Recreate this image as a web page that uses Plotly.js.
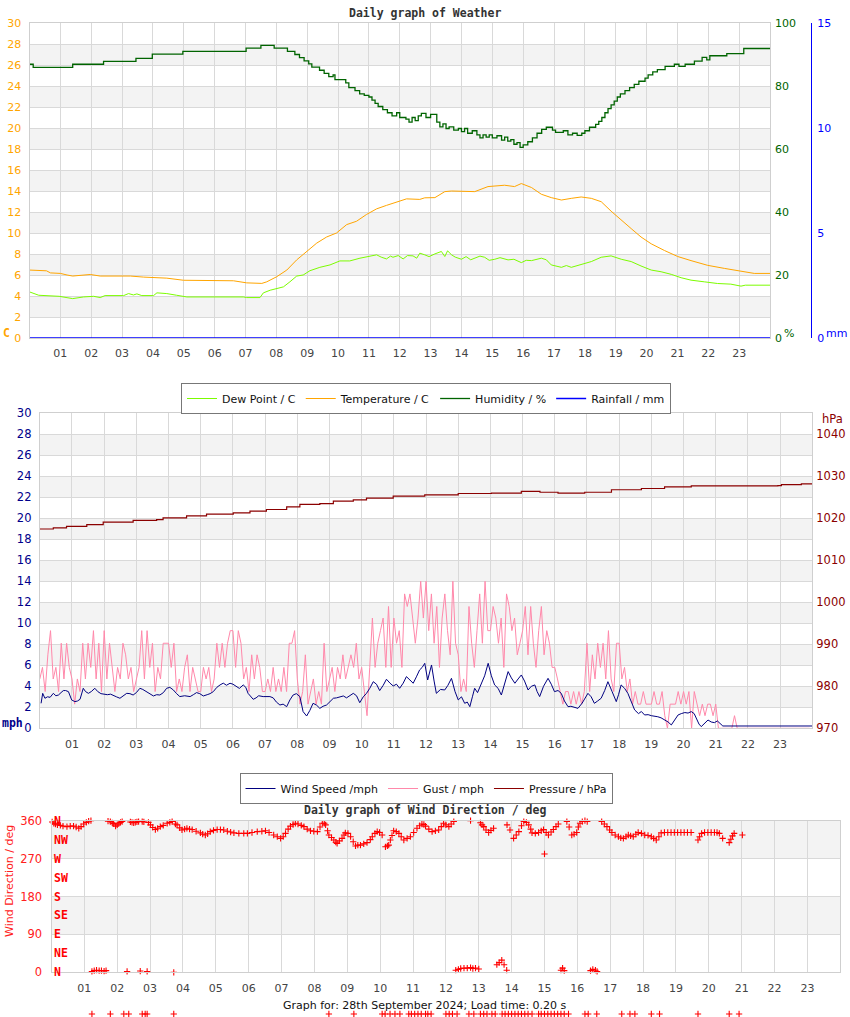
<!DOCTYPE html>
<html><head><meta charset="utf-8">
<script src="https://cdn.plot.ly/plotly-3.0.1.min.js"></script>
<style>html,body{margin:0;padding:0;background:#fff;}#chart{width:850px;height:1017px;}</style>
</head><body><div id="chart"></div>
<script>
// ---------------- DATA ----------------
const hourTicks = [1,2,3,4,5,6,7,8,9,10,11,12,13,14,15,16,17,18,19,20,21,22,23];
const hourLabels = ['01','02','03','04','05','06','07','08','09','10','11','12','13','14','15','16','17','18','19','20','21','22','23'];

// [hour, value]
const temperatureC = [[0,6.47],[0.55,6.4],[0.68,6.2],[1.0,6.15],[1.22,6.0],[1.4,5.9],[1.97,6.05],[2.29,5.9],[3.27,5.9],[3.7,5.8],[4.45,5.7],[4.99,5.5],[6.61,5.45],[7.04,5.25],[7.53,5.2],[7.69,5.35],[8.01,5.83],[8.34,6.47],[8.66,7.44],[8.98,8.24],[9.31,9.04],[9.63,9.62],[9.95,10.0],[10.28,10.8],[10.6,11.12],[10.92,11.76],[11.25,12.3],[11.57,12.63],[11.8,12.85],[12.0,13.04],[12.22,13.25],[12.65,13.2],[12.81,13.35],[13.14,13.37],[13.46,13.94],[13.68,14.0],[14.43,13.94],[14.86,14.42],[15.4,14.55],[15.72,14.42],[15.94,14.71],[16.27,14.33],[16.59,13.69],[16.91,13.37],[17.24,13.14],[17.56,13.3],[17.88,13.43],[18.21,13.3],[18.53,12.98],[18.85,12.08],[19.18,11.28],[19.5,10.42],[19.82,9.62],[20.15,8.97],[20.58,8.33],[21.01,7.76],[21.44,7.37],[21.98,6.92],[22.52,6.63],[22.95,6.41],[23.49,6.15],[24,6.15]];

const dewPointC = [[0,4.39],[0.2,4.17],[0.3,4.07],[0.96,3.97],[1.4,3.75],[1.75,3.91],[2.08,3.97],[2.29,3.85],[2.45,4.04],[3.05,4.04],[3.21,4.23],[3.37,4.1],[3.48,4.2],[3.64,4.04],[4.02,4.04],[4.13,4.3],[4.45,4.23],[4.77,4.07],[5.1,3.91],[6.93,3.91],[7.04,3.85],[7.47,3.85],[7.58,4.3],[7.8,4.55],[8.01,4.7],[8.23,4.87],[8.44,5.35],[8.66,5.9],[8.87,6.0],[9.09,6.41],[9.41,6.73],[9.74,6.96],[10.06,7.34],[10.38,7.34],[10.71,7.6],[11.03,7.82],[11.25,7.92],[11.4,7.7],[11.57,7.53],[11.7,7.8],[11.78,7.69],[11.95,7.85],[12.11,7.53],[12.25,7.85],[12.43,7.82],[12.55,7.6],[12.65,8.08],[12.81,7.92],[12.95,7.75],[13.14,8.01],[13.35,8.24],[13.46,7.76],[13.55,8.3],[13.68,7.92],[13.8,7.7],[14.0,7.5],[14.15,7.75],[14.3,7.45],[14.43,7.6],[14.6,7.8],[14.75,7.69],[14.9,7.4],[15.08,7.5],[15.25,7.65],[15.51,7.44],[15.7,7.5],[15.94,7.18],[16.1,7.4],[16.27,7.37],[16.45,7.5],[16.59,7.6],[16.75,7.45],[16.91,6.96],[17.24,6.73],[17.4,6.9],[17.56,6.73],[17.7,6.85],[17.88,6.96],[18.21,7.28],[18.53,7.69],[18.85,7.82],[19.18,7.5],[19.5,7.28],[19.82,6.86],[20.15,6.47],[20.47,6.31],[20.8,6.06],[21.12,5.74],[21.44,5.51],[21.87,5.35],[22.3,5.19],[22.73,5.13],[23.06,4.94],[23.2,5.03],[23.49,5.03],[24,5.03]];

const humidityPct = [[0,86.9],[0.12,85.9],[1.4,86.9],[2.4,87.8],[3.45,88.8],[3.98,90.1],[4.97,91.0],[7.02,92.0],[7.5,92.9],[7.93,92.0],[8.36,91.0],[8.6,90.0],[8.75,89.0],[8.9,88.0],[9.05,87.0],[9.15,86.0],[9.4,85.0],[9.55,84.0],[9.7,83.0],[9.84,83.5],[9.9,82.0],[10.25,81.0],[10.35,79.5],[10.55,78.5],[10.7,77.5],[10.85,77.0],[11.0,76.5],[11.1,75.5],[11.2,74.5],[11.3,73.5],[11.45,72.5],[11.6,71.5],[11.75,70.5],[11.9,71.5],[12.0,70.0],[12.2,69.5],[12.3,68.5],[12.4,70.0],[12.5,69.0],[12.6,70.5],[12.7,71.3],[12.85,70.0],[13.0,71.0],[13.2,68.5],[13.3,67.0],[13.4,68.0],[13.5,66.5],[13.6,67.0],[13.75,66.0],[13.9,66.5],[14.0,65.5],[14.1,66.5],[14.2,65.0],[14.35,65.8],[14.5,64.5],[14.6,63.5],[14.7,64.5],[14.8,63.8],[14.9,64.5],[15.0,63.5],[15.15,64.2],[15.3,62.8],[15.4,63.8],[15.5,62.5],[15.6,63.0],[15.7,61.5],[15.8,62.0],[15.9,60.5],[16.0,61.3],[16.15,62.3],[16.3,63.5],[16.45,65.0],[16.6,66.2],[16.75,66.9],[16.95,66.0],[17.05,65.3],[17.3,65.8],[17.45,64.5],[17.6,65.0],[17.75,64.3],[17.9,65.0],[18.0,65.8],[18.15,66.9],[18.35,67.8],[18.45,68.8],[18.55,70.0],[18.65,71.5],[18.75,72.8],[18.85,74.0],[18.95,75.2],[19.05,76.5],[19.15,77.5],[19.3,78.5],[19.45,79.5],[19.6,80.5],[19.75,81.5],[19.95,82.5],[20.05,83.5],[20.2,84.5],[20.35,85.2],[20.6,86.2],[20.9,86.9],[21.05,86.2],[21.25,86.9],[21.55,87.9],[21.8,89.1],[21.95,88.3],[22.05,89.6],[22.6,90.3],[23.15,91.9],[24,91.9]];

const rainfallMm = [[0,0],[24,0]];

const windSpeedMph = [[0.04,2.38],[0.09,3.33],[0.16,2.86],[0.24,3.0],[0.32,2.95],[0.42,3.33],[0.5,3.1],[0.58,3.17],[0.66,3.4],[0.73,3.59],[0.8,3.6],[0.89,3.49],[0.99,2.7],[1.09,2.54],[1.17,2.6],[1.25,2.76],[1.35,3.81],[1.42,3.5],[1.51,3.33],[1.6,3.5],[1.71,3.81],[1.8,3.5],[1.9,3.3],[1.97,3.27],[2.1,3.2],[2.2,3.25],[2.28,3.17],[2.38,3.0],[2.49,2.86],[2.6,3.1],[2.7,3.33],[2.8,3.3],[2.9,3.17],[3.0,3.4],[3.11,3.81],[3.2,3.7],[3.32,3.49],[3.42,3.3],[3.53,3.08],[3.63,3.2],[3.73,3.17],[3.84,3.4],[3.94,3.81],[4.04,3.9],[4.15,3.65],[4.25,3.3],[4.35,3.02],[4.5,3.1],[4.67,3.02],[4.77,3.2],[4.87,3.4],[4.97,3.3],[5.08,3.08],[5.2,3.2],[5.29,3.3],[5.39,3.49],[5.5,3.9],[5.6,4.13],[5.7,4.3],[5.8,4.1],[5.91,4.29],[6.0,4.2],[6.11,3.97],[6.2,3.8],[6.32,4.13],[6.4,3.9],[6.47,3.33],[6.55,3.0],[6.63,2.76],[6.72,2.9],[6.8,3.1],[6.94,3.02],[7.05,3.0],[7.15,3.02],[7.25,2.9],[7.35,2.5],[7.46,2.22],[7.56,2.3],[7.67,2.06],[7.77,2.7],[7.87,3.17],[7.97,3.3],[8.08,3.02],[8.18,1.59],[8.29,1.17],[8.39,1.7],[8.49,2.38],[8.6,2.2],[8.7,1.9],[8.8,2.1],[8.91,2.22],[9.0,2.5],[9.12,2.86],[9.22,2.9],[9.33,3.0],[9.43,3.08],[9.53,2.9],[9.64,3.1],[9.74,3.33],[9.84,3.1],[9.94,2.44],[10.05,3.0],[10.15,3.33],[10.25,3.8],[10.36,4.44],[10.46,4.2],[10.56,3.59],[10.67,4.1],[10.77,4.67],[10.88,4.3],[10.98,4.03],[11.08,4.2],[11.18,3.81],[11.29,4.3],[11.39,4.92],[11.5,4.6],[11.6,4.29],[11.7,4.9],[11.8,5.56],[11.88,5.8],[11.96,6.19],[12.05,4.6],[12.17,6.03],[12.25,4.5],[12.32,3.33],[12.45,3.7],[12.58,3.65],[12.68,4.1],[12.79,4.76],[12.9,3.5],[13.0,2.7],[13.1,3.0],[13.2,2.38],[13.28,2.5],[13.36,2.06],[13.44,3.0],[13.51,3.81],[13.6,3.4],[13.72,4.29],[13.82,5.0],[13.93,6.19],[14.03,5.0],[14.13,4.13],[14.24,3.8],[14.34,3.17],[14.45,4.3],[14.55,5.4],[14.65,4.8],[14.76,4.29],[14.86,4.7],[14.96,5.08],[15.06,4.5],[15.17,3.65],[15.27,4.0],[15.38,4.13],[15.45,3.5],[15.53,3.02],[15.65,4.0],[15.79,4.76],[15.89,4.2],[15.99,3.49],[16.1,3.6],[16.2,3.33],[16.3,2.6],[16.41,2.06],[16.5,2.1],[16.62,2.0],[16.72,1.9],[16.85,2.4],[16.95,2.9],[17.03,3.33],[17.13,3.0],[17.23,2.38],[17.33,2.6],[17.44,2.86],[17.55,3.6],[17.65,4.44],[17.78,3.5],[17.91,2.54],[17.98,3.2],[18.06,4.13],[18.17,3.8],[18.27,3.33],[18.38,2.5],[18.48,1.75],[18.6,1.4],[18.69,1.6],[18.79,1.27],[18.9,1.3],[19.0,1.2],[19.1,1.17],[19.2,1.1],[19.3,1.0],[19.41,0.79],[19.52,0.6],[19.62,0.32],[19.72,0.8],[19.83,1.27],[19.93,1.4],[20.04,1.5],[20.14,1.45],[20.24,1.59],[20.33,1.4],[20.4,0.95],[20.48,0.4],[20.55,0.16],[20.65,0.5],[20.76,0.79],[20.86,0.6],[20.96,0.54],[21.05,0.7],[21.12,0.5],[21.22,0.22],[24,0.22]];

// gust, one row per hour, readings every 5 minutes
const gustMphByHour = [
 [4.7,5.8,3.5,7.0,9.3,4.7,5.8,3.5,8.1,4.7,8.1,5.8],
 [4.7,2.3,4.7,3.5,8.1,4.7,8.1,5.8,9.3,4.7,8.1,3.5],
 [9.3,4.7,8.1,5.8,3.5,5.8,4.7,8.1,7.0,4.7,5.8,3.5],
 [4.7,5.8,9.3,4.7,9.3,5.8,8.1,3.5,5.8,4.7,8.1,8.1],
 [8.1,5.8,8.1,3.5,4.7,3.5,5.8,7.0,3.5,5.8,4.7,3.5],
 [3.5,5.8,4.7,5.8,3.5,4.7,8.1,5.8,8.1,5.8,8.1,9.3],
 [9.3,5.8,9.3,8.1,4.7,5.8,3.5,7.0,4.7,7.0,5.8,3.5],
 [3.5,4.7,3.5,5.8,3.5,4.7,3.5,5.8,3.5,8.1,8.1,9.3],
 [4.7,2.3,3.5,7.0,2.3,3.5,4.7,2.3,3.5,2.3,8.1,3.5],
 [4.7,5.8,3.5,5.8,4.7,7.0,4.7,5.8,7.0,5.8,8.1,4.7],
 [5.8,3.5,1.2,5.8,10.5,5.8,8.1,9.3,10.5,5.8,11.6,5.8],
 [10.5,8.1,9.3,5.8,12.8,11.6,12.8,10.5,8.1,10.5,14.0,10.5],
 [14.0,9.3,12.8,8.1,11.6,5.8,10.5,12.8,9.3,7.0,14.0,8.1],
 [7.0,3.5,4.7,3.5,11.6,8.1,5.8,9.3,12.8,8.1,14.0,9.3],
 [9.3,11.6,10.5,8.1,10.5,5.8,12.8,11.6,9.3,10.5,7.0,8.1],
 [9.3,11.6,7.0,11.6,8.1,5.8,9.3,11.6,7.0,9.3,8.1,5.8],
 [5.8,4.7,3.5,2.3,3.5,3.5,2.3,3.5,2.3,3.5,2.3,3.5],
 [8.1,3.5,7.0,4.7,8.1,5.8,8.1,4.7,9.3,4.7,3.5,8.1],
 [8.1,4.7,5.8,3.5,4.7,2.3,3.5,2.3,2.3,3.5,2.3,2.3],
 [2.3,3.5,2.3,2.3,3.5,1.2,0.0,2.3,2.3,2.3,3.5,2.3],
 [3.5,2.3,3.5,0.0,3.5,2.3,1.2,2.3,1.2,2.3,2.3,1.2],
 [2.3,0.0,0.0,0.0,0.0,0.0,0.0,1.2,0.0,0.0,0.0,0.0],
 [0,0,0,0,0,0,0,0,0,0,0,0],
 [0,0,0,0,0,0,0,0,0,0,0,0]
];

const pressureHpa = [[0,1017.45],[0.42,1017.7],[0.83,1018.1],[1.46,1018.5],[1.97,1019.1],[2.9,1019.5],[3.63,1019.7],[3.83,1020.1],[4.56,1020.6],[5.18,1021.0],[6.01,1021.3],[6.53,1021.7],[7.04,1022.1],[7.67,1022.7],[8.08,1023.3],[8.7,1023.5],[9.12,1024.1],[9.74,1024.4],[10.15,1024.8],[10.98,1025.3],[11.96,1025.6],[13.0,1025.9],[14.03,1026.0],[14.96,1026.4],[15.54,1026.2],[16.1,1026.0],[16.93,1026.2],[17.76,1026.8],[18.69,1027.1],[19.41,1027.5],[20.24,1027.7],[21.28,1027.7],[22.93,1027.8],[23.04,1028.0],[23.66,1028.2],[24,1028.2]];

const windDirDeg = [[0.02,357],[0.07,354],[0.12,352],[0.18,350],[0.27,349],[0.35,347],[0.47,346],[0.57,347],[0.67,347],[0.75,345],[0.83,342],[0.9,346],[0.98,352],[1.06,356],[1.13,359],[1.2,360],
[1.23,2],[1.3,4],[1.37,5],[1.45,4],[1.52,4],[1.6,3],[1.66,4],
[1.72,359],[1.79,358],[1.85,355],[1.89,353],[1.95,347],[2.0,350],[2.05,354],[2.1,356],[2.15,358],[2.3,2],[2.4,357],[2.45,356],[2.5,355],[2.55,356],[2.6,357],[2.65,358],[2.7,3],[2.76,358],[2.81,357],[2.91,2],[2.95,356],[3.01,350],[3.08,344],[3.16,339],[3.23,342],[3.31,346],[3.4,349],[3.52,354],[3.6,356],[3.67,358],[3.72,0],[3.77,352],[3.82,350],[3.9,343],[3.97,338],[4.05,340],[4.12,342],[4.2,340],[4.28,339],[4.4,335],[4.53,331],[4.6,328],[4.68,326],[4.75,329],[4.83,334],[4.93,337],[5.04,339],[5.14,339],[5.24,338],[5.35,335],[5.45,333],[5.55,331],[5.7,330],[5.85,330],[5.96,330],[6.1,332],[6.26,334],[6.4,335],[6.51,336],[6.62,332],[6.76,326],[6.87,322],[6.97,318],[7.05,322],[7.12,330],[7.2,340],[7.27,347],[7.35,351],[7.42,354],[7.5,352],[7.6,349],[7.68,346],[7.78,340],[7.88,336],[7.98,335],[8.09,334],[8.17,345],[8.24,354],[8.3,354],[8.34,350],[8.4,336],[8.44,326],[8.52,320],[8.59,314],[8.65,309],[8.69,306],[8.76,312],[8.84,318],[8.9,326],[8.94,331],[9.02,330],[9.1,322],[9.18,310],[9.25,300],[9.32,302],[9.4,302],[9.5,305],[9.6,308],[9.7,315],[9.76,322],[9.84,330],[9.91,334],[9.98,332],[10.06,326],[10.16,298],[10.22,300],[10.26,302],[10.31,314],[10.36,325],[10.41,336],[10.49,334],[10.57,330],[10.64,322],[10.72,314],[10.82,318],[10.92,322],[11.02,332],[11.12,342],[11.2,348],[11.27,352],[11.33,351],[11.38,347],[11.48,340],[11.58,334],[11.68,336],[11.78,338],[11.86,346],[11.93,354],[12.0,350],[12.09,346],[12.16,352],[12.24,358],
[12.3,5],[12.38,7],[12.45,9],[12.55,10],[12.65,10],[12.75,11],[12.82,9],[12.9,10],[13.0,8],
[12.75,360],[13.05,355],[13.1,350],[13.15,346],[13.22,338],[13.3,332],[13.37,337],[13.45,342],
[13.55,18],[13.62,23],[13.7,29],[13.77,18],[13.85,5],
[13.86,350],[13.95,338],[14.06,318],[14.14,326],[14.22,334],[14.3,348],[14.37,358],[14.45,356],[14.52,350],[14.58,340],[14.62,331],[14.72,330],[14.82,332],[14.9,336],[14.97,339],[15.0,281],[15.05,332],[15.12,326],[15.2,333],[15.27,339],[15.35,346],[15.42,352],[15.5,5],[15.55,10],[15.6,4],[15.68,358],[15.75,345],[15.83,326],[15.9,328],[15.98,332],[16.03,345],[16.08,354],[16.15,358],[16.23,360],[16.3,358],[16.4,4],[16.47,7],[16.55,5],[16.6,2],[16.74,358],[16.82,352],[16.9,346],[16.98,338],[17.05,332],[17.15,326],[17.25,322],[17.32,319],[17.4,318],[17.48,322],[17.55,326],[17.62,324],[17.7,322],[17.78,328],[17.85,332],[17.95,330],[18.05,326],[18.15,325],[18.25,322],[18.32,318],[18.4,314],[18.48,322],[18.55,331],[18.65,332],[18.75,332],[18.85,332],[18.95,332],[19.05,332],[19.15,332],[19.25,332],[19.35,332],[19.46,332],[19.67,314],[19.72,322],[19.78,330],[19.87,332],[19.97,332],[20.07,332],[20.17,332],[20.25,332],[20.32,330],[20.42,318],[20.62,308],[20.67,316],[20.72,324],[20.77,330],[21.02,326]];

// stray readings drawn below the direction panel
const windDirBelowHours = [1.23,1.79,2.2,2.35,2.76,2.85,2.91,3.72,8.44,9.2,10.06,10.15,10.3,10.45,10.6,10.87,10.95,11.05,11.15,11.25,11.38,11.45,11.55,12.0,12.1,12.2,12.34,12.7,12.85,13.05,13.15,13.25,13.4,13.5,13.71,13.8,13.9,14.0,14.1,14.2,14.3,14.4,14.5,14.62,14.82,14.9,15.0,15.1,15.2,15.3,15.4,15.5,15.6,15.73,16.23,16.33,16.59,17.35,17.6,17.75,18.25,18.5,19.67,20.62,20.92];
const windDirBelowDeg = -99;

const compassNames = ['N','NE','E','SE','S','SW','W','NW','N'];
const compassDeg = [0,45,90,135,180,225,270,315,360];

// ---------------- LAYOUT HELPERS ----------------
const W = 850, H = 1017;
const fx = p => p / W;
const fy = p => 1 - p / H;
const X = a => a.map(d => d[0]);
const Y = a => a.map(d => d[1]);
const range = (a, b, s) => { const r = []; for (let v = a; v <= b + 1e-9; v += s) r.push(v); return r; };

const FONT = 'DejaVu Sans';
const MONO = 'DejaVu Sans Mono';
const GRID = '#d9d9d9';
const BAND = '#f3f3f3';
const BORDER = '#cfcfcf';

const gustX = [], gustY = [];
gustMphByHour.forEach((row, h) => row.forEach((v, i) => { gustX.push(h + i / row.length); gustY.push(v); }));

const crossMarker = {symbol: 'cross-thin', size: 4.5, color: '#ff0000', line: {color: '#ff0000', width: 1.1}};

const traces = [
  {x: X(dewPointC), y: Y(dewPointC), name: 'Dew Point / C', type: 'scatter', mode: 'lines', line: {color: '#7cfc00', width: 1}, xaxis: 'x', yaxis: 'y', legend: 'legend'},
  {x: X(temperatureC), y: Y(temperatureC), name: 'Temperature / C', type: 'scatter', mode: 'lines', line: {color: '#ffa500', width: 1}, xaxis: 'x', yaxis: 'y', legend: 'legend'},
  {x: X(humidityPct), y: Y(humidityPct), name: 'Humidity / %', type: 'scatter', mode: 'lines', line: {color: '#006400', width: 1.3, shape: 'hv'}, xaxis: 'x', yaxis: 'y2', legend: 'legend'},
  {x: X(rainfallMm), y: Y(rainfallMm), name: 'Rainfall / mm', type: 'scatter', mode: 'lines', line: {color: '#0000ff', width: 1.5}, xaxis: 'x', yaxis: 'y3', legend: 'legend', cliponaxis: false},

  {x: gustX, y: gustY, name: 'Gust / mph', type: 'scatter', mode: 'lines', line: {color: '#ff88aa', width: 1}, xaxis: 'x2', yaxis: 'y4', legend: 'legend2', legendrank: 2},
  {x: X(windSpeedMph), y: Y(windSpeedMph), name: 'Wind Speed /mph', type: 'scatter', mode: 'lines', line: {color: '#000080', width: 1}, xaxis: 'x2', yaxis: 'y4', legend: 'legend2', legendrank: 1, cliponaxis: false},
  {x: X(pressureHpa), y: Y(pressureHpa), name: 'Pressure / hPa', type: 'scatter', mode: 'lines', line: {color: '#8b0000', width: 1.2, shape: 'hv'}, xaxis: 'x2', yaxis: 'y5', legend: 'legend2', legendrank: 3},

  {x: X(windDirDeg), y: Y(windDirDeg), name: 'Wind Direction / deg', type: 'scatter', mode: 'markers', marker: crossMarker, xaxis: 'x3', yaxis: 'y6', showlegend: false, cliponaxis: false},
  {x: windDirBelowHours, y: windDirBelowHours.map(() => windDirBelowDeg), type: 'scatter', mode: 'markers', marker: crossMarker, xaxis: 'x4', yaxis: 'y7', showlegend: false, cliponaxis: false, hoverinfo: 'skip'}
];

function hourAxis(domL, domR, anchor) {
  return {domain: [fx(domL), fx(domR)], anchor: anchor, range: [0, 24], tickmode: 'array', tickvals: hourTicks, ticktext: hourLabels,
    showgrid: true, gridcolor: GRID, gridwidth: 1, zeroline: false, showline: true, linecolor: BORDER, mirror: true, ticks: '',
    tickfont: {family: FONT, size: 11, color: '#444'}, ticklabelstandoff: 5, fixedrange: true};
}

const layout = {
  width: W, height: H, margin: {l: 0, r: 0, t: 0, b: 0}, paper_bgcolor: '#fff', plot_bgcolor: '#fff',
  font: {family: FONT, size: 11, color: '#222'}, showlegend: true, hovermode: false,
  xaxis: hourAxis(29.5, 770, 'y'),
  yaxis: {domain: [fy(338), fy(23)], anchor: 'x', range: [0, 30], tickmode: 'array', tickvals: range(0, 30, 2), showgrid: true, gridcolor: GRID, zeroline: false, showline: true, linecolor: BORDER, mirror: true, ticks: '', tickfont: {family: FONT, size: 11, color: '#ffa500'}, ticklabelstandoff: 5, fixedrange: true},
  yaxis2: {overlaying: 'y', side: 'right', anchor: 'x', range: [0, 100], tickmode: 'array', tickvals: range(0, 100, 20), showgrid: false, zeroline: false, showline: false, ticks: '', tickfont: {family: FONT, size: 11, color: '#006400'}, ticklabelstandoff: 4, fixedrange: true},
  yaxis3: {overlaying: 'y', side: 'right', anchor: 'free', position: fx(810.5), range: [0, 15], tickmode: 'array', tickvals: range(0, 15, 5), showgrid: false, zeroline: false, showline: true, linecolor: '#0000ff', linewidth: 1.5, ticks: '', tickfont: {family: FONT, size: 11, color: '#0000ff'}, ticklabelstandoff: 3, fixedrange: true},

  xaxis2: hourAxis(39.8, 812.3, 'y4'),
  yaxis4: {domain: [fy(728.3), fy(413.3)], anchor: 'x2', range: [0, 30], tickmode: 'array', tickvals: range(0, 30, 2), showgrid: true, gridcolor: GRID, zeroline: false, showline: true, linecolor: BORDER, mirror: true, ticks: '', tickfont: {family: FONT, size: 11.5, color: '#00008b'}, ticklabelstandoff: 5, fixedrange: true},
  yaxis5: {overlaying: 'y4', side: 'right', anchor: 'x2', range: [970, 1045], tickmode: 'array', tickvals: range(970, 1040, 10), showgrid: false, zeroline: false, showline: false, ticks: '', tickfont: {family: FONT, size: 11.5, color: '#8b0000'}, ticklabelstandoff: 3, fixedrange: true},

  xaxis3: hourAxis(51.5, 840.3, 'y6'),
  yaxis6: {domain: [fy(972.3), fy(820.7)], anchor: 'x3', range: [0, 360], tickmode: 'array', tickvals: range(0, 360, 90), showgrid: true, gridcolor: GRID, zeroline: false, showline: true, linecolor: BORDER, mirror: true, ticks: '', tickfont: {family: FONT, size: 11.5, color: '#ff2020'}, ticklabelstandoff: 6, fixedrange: true},
  // hidden strip under the direction panel, same hour scale
  xaxis4: {domain: [fx(51.5), fx(840.3)], anchor: 'y7', range: [0, 24], visible: false, showgrid: false, zeroline: false, fixedrange: true},
  yaxis7: {domain: [fy(1017), fy(1010)], anchor: 'x4', range: [-102, -95], visible: false, showgrid: false, zeroline: false, fixedrange: true},

  legend: {x: fx(426), xanchor: 'center', y: fy(383), yanchor: 'top', orientation: 'h', bgcolor: '#fff', bordercolor: '#777', borderwidth: 1, font: {family: FONT, size: 11, color: '#111'}, itemwidth: 30, traceorder: 'normal'},
  legend2: {x: fx(426), xanchor: 'center', y: fy(773), yanchor: 'top', orientation: 'h', bgcolor: '#fff', bordercolor: '#777', borderwidth: 1, font: {family: FONT, size: 11, color: '#111'}, itemwidth: 30, traceorder: 'normal'},

  shapes: [], annotations: []
};

// alternating background bands
range(2, 26, 4).forEach(v => {
  layout.shapes.push({type: 'rect', xref: 'x domain', yref: 'y', x0: 0, x1: 1, y0: v, y1: v + 2, fillcolor: BAND, line: {width: 0}, layer: 'below'});
  layout.shapes.push({type: 'rect', xref: 'x2 domain', yref: 'y4', x0: 0, x1: 1, y0: v, y1: v + 2, fillcolor: BAND, line: {width: 0}, layer: 'below'});
});
[90, 270].forEach(v => layout.shapes.push({type: 'rect', xref: 'x3 domain', yref: 'y6', x0: 0, x1: 1, y0: v, y1: v + 90, fillcolor: BAND, line: {width: 0}, layer: 'below'}));

function txt(text, px, py, opts) {
  layout.annotations.push(Object.assign({text: text, x: fx(px), y: fy(py), xref: 'paper', yref: 'paper', showarrow: false, xanchor: 'center', yanchor: 'middle', font: {family: FONT, size: 11, color: '#222'}}, opts || {}));
}
txt('<b>Daily graph of Weather</b>', 425, 13, {font: {family: MONO, size: 11.5, color: '#333'}});
txt('<b>C</b>', 6, 333, {font: {family: MONO, size: 11.5, color: '#ffa500'}});
txt('%', 789, 333, {font: {family: FONT, size: 11, color: '#006400'}});
txt('mm', 836, 333, {font: {family: FONT, size: 11, color: '#0000ff'}});
txt('hPa', 832, 419, {font: {family: FONT, size: 11.5, color: '#8b0000'}});
txt('<b>mph</b>', 12, 723, {font: {family: MONO, size: 11.5, color: '#00008b'}});
txt('<b>Daily graph of Wind Direction / deg</b>', 425, 810, {font: {family: MONO, size: 11.5, color: '#333'}});
txt('Wind Direction / deg', 9, 881, {textangle: -90, font: {family: FONT, size: 11, color: '#ff2020'}});
txt('Graph for: 28th September 2024; Load time: 0.20 s', 425, 1005, {font: {family: FONT, size: 11, color: '#111'}});
compassNames.forEach((n, i) => layout.annotations.push({text: '<b>' + n + '</b>', xref: 'x3 domain', yref: 'y6', x: 0, y: compassDeg[i], xanchor: 'left', yanchor: 'middle', showarrow: false, font: {family: MONO, size: 11.5, color: '#ff0000'}}));

Plotly.newPlot('chart', traces, layout, {staticPlot: true, displayModeBar: false});
</script>
</body></html>
